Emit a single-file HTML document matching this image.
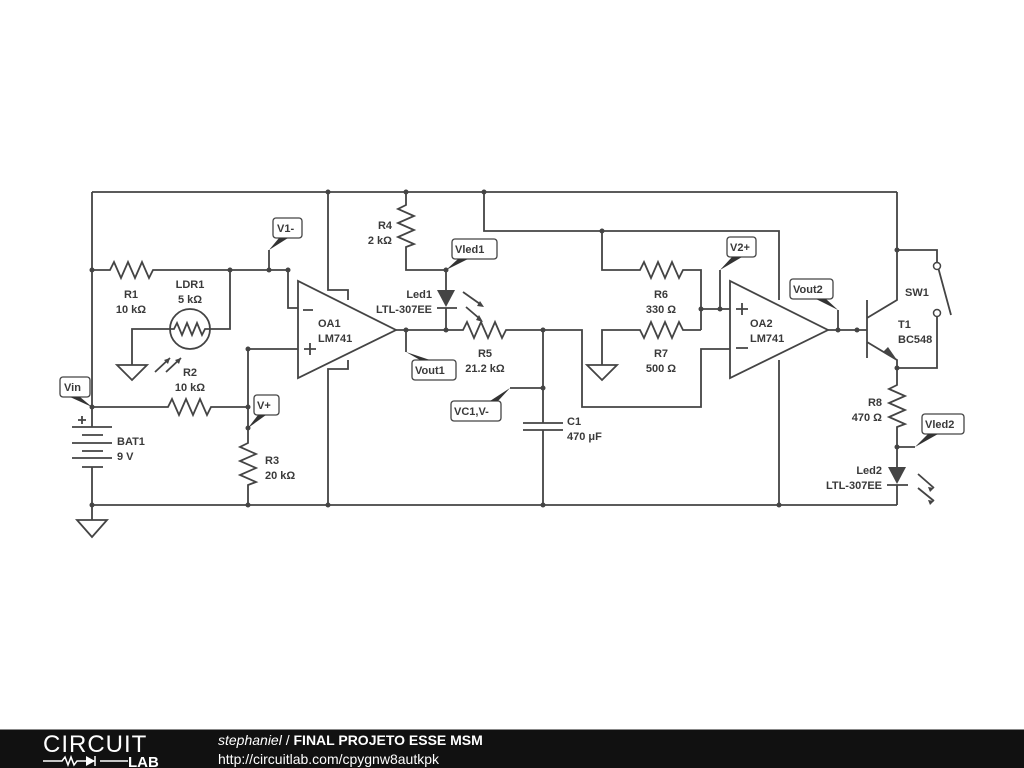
<!DOCTYPE html>
<html><head><style>
html,body{margin:0;padding:0;background:#fff;}
svg{display:block;}
text{font-family:"Liberation Sans",sans-serif;font-weight:bold;font-size:11px;fill:#3a3a3a;}
</style></head><body>
<svg width="1024" height="768" viewBox="0 0 1024 768">
<rect width="1024" height="768" fill="#fff"/>
<g stroke="#444" stroke-width="1.8" fill="none" stroke-linejoin="miter">
<path d="M92 192H897 M92 192V427 M92 467V520 M92 505H897"/>
<path d="M72 427H112 M82 435H103 M72 443H112 M82 451H103 M72 458H112 M82 467H103 M78 420H86 M82 416V424" />
<path d="M77 520H107L92 537Z"/>
<path d="M92 270H110l4-8l7 16l7-16l7 16l7-16l7 16l4-8H288V308H298"/>
<path d="M269 270V250"/>
<circle cx="190" cy="329" r="20"/>
<path d="M170 329H174l3-6l5 12l5-12l5 12l5-12l5 12l3-6H210 M210 329H230V270 M170 329H132V365 M117 365H147L132 380Z"/>
<path d="M155 372L170 358 M166 372L181 358"/>
<path d="M92 407H168l4-8l7 16l7-16l7 16l7-16l7 16l4-8H248 M248 349V443l-8 4l16 7l-16 7l16 7l-16 7l16 7l-8 3V505 M248 349H298"/>
<path d="M298 281V378L396 330Z"/>
<path d="M303 310H313 M304 349H316 M310 343V355"/>
<path d="M328 192V290H348V300 M348 360V369H328V505"/>
<path d="M406 192V205l-8 4l16 7l-16 7l16 7l-16 7l16 7l-8 3V270H446V290 M437 308H457 M446 308V330"/>
<path d="M396 330H463l4-8l7 16l7-16l7 16l7-16l7 16l4-8H582V407H701V349H730"/>
<path d="M406 330V352"/>
<path d="M463 292L480 304 M466 307L480 319"/>
<path d="M543 330V423 M523 423H563 M523 430H563 M543 430V505 M543 388H510"/>
<path d="M484 192V231H779V300 M779 360V505"/>
<path d="M602 231V270H640l4-8l7 16l7-16l7 16l7-16l7 16l4-8H701V330 M701 309H730 M720 309V270"/>
<path d="M701 330H683l-4-8l-7 16l-7-16l-7 16l-7-16l-7 16l-4-8H602V365 M587 365H617L602 380Z"/>
<path d="M730 281V378L828 330Z"/>
<path d="M736 309H748 M742 303V315 M736 348H748"/>
<path d="M828 330H867 M838 330V310 M867 300V358 M867 318L897 300V192 M867 342L897 360V368"/>
<path d="M897 250H937V262 M937 317V368H897 M938 267L951 315"/>
<path d="M897 368V385l-8 4l16 7l-16 7l16 7l-16 7l16 7l-8 3V467 M897 447H915 M887 485H908 M897 485V505"/>
<path d="M918 474L934 488 M918 488L934 501"/>
</g>
<g fill="#444">
<circle cx="937" cy="266" r="3.5" fill="#fff" stroke="#444" stroke-width="1.5"/>
<circle cx="937" cy="313" r="3.5" fill="#fff" stroke="#444" stroke-width="1.5"/>
<path d="M437 290H455L446 307Z"/>
<path d="M888 467H906L897 484Z"/>
<path d="M883 352L897 360L888 347Z"/>
<path d="M170 358l-6 2l4 4Z M181 358l-6 2l4 4Z M484 307l-7-1l3-5Z M483 322l-7-2l3-5Z M934 488l-6-1l2 5Z M934 501l-6-1l2 5Z"/>
<g>
<circle cx="92" cy="270" r="2.5"/><circle cx="230" cy="270" r="2.5"/><circle cx="269" cy="270" r="2.5"/><circle cx="288" cy="270" r="2.5"/>
<circle cx="92" cy="407" r="2.5"/><circle cx="248" cy="407" r="2.5"/><circle cx="248" cy="428" r="2.5"/><circle cx="248" cy="349" r="2.5"/><circle cx="92" cy="505" r="2.5"/><circle cx="248" cy="505" r="2.5"/>
<circle cx="328" cy="192" r="2.5"/><circle cx="406" cy="192" r="2.5"/><circle cx="484" cy="192" r="2.5"/><circle cx="328" cy="505" r="2.5"/>
<circle cx="446" cy="270" r="2.5"/><circle cx="446" cy="330" r="2.5"/><circle cx="406" cy="330" r="2.5"/>
<circle cx="543" cy="330" r="2.5"/><circle cx="543" cy="388" r="2.5"/><circle cx="543" cy="505" r="2.5"/>
<circle cx="602" cy="231" r="2.5"/><circle cx="701" cy="309" r="2.5"/><circle cx="720" cy="309" r="2.5"/><circle cx="779" cy="505" r="2.5"/>
<circle cx="838" cy="330" r="2.5"/><circle cx="857" cy="330" r="2.5"/><circle cx="897" cy="250" r="2.5"/><circle cx="897" cy="368" r="2.5"/><circle cx="897" cy="447" r="2.5"/>
</g>
</g>
<g stroke="#444" stroke-width="1.3" fill="#fff">
<rect x="273" y="218" width="29" height="20" rx="3"/>
<rect x="60" y="377" width="30" height="20" rx="3"/>
<rect x="254" y="395" width="25" height="20" rx="3"/>
<rect x="452" y="239" width="45" height="20" rx="3"/>
<rect x="412" y="360" width="44" height="20" rx="3"/>
<rect x="451" y="401" width="50" height="20" rx="3"/>
<rect x="727" y="237" width="29" height="20" rx="3"/>
<rect x="790" y="279" width="43" height="20" rx="3"/>
<rect x="922" y="414" width="42" height="20" rx="3"/>
</g>
<g fill="#333">
<path d="M269 250L279 238H288Z"/>
<path d="M92 407L80 397H70Z"/>
<path d="M248 428L258 415H266Z"/>
<path d="M446 270L458 259H468Z"/>
<path d="M406 352L420 360H430Z"/>
<path d="M510 388L498 401H490Z"/>
<path d="M720 270L732 257H742Z"/>
<path d="M838 310L826 299H816Z"/>
<path d="M915 447L928 434H938Z"/>
</g>
<g>
<text x="277" y="232">V1-</text>
<text x="64" y="391">Vin</text>
<text x="257" y="409">V+</text>
<text x="455" y="253">Vled1</text>
<text x="415" y="374">Vout1</text>
<text x="454" y="415">VC1,V-</text>
<text x="730" y="251">V2+</text>
<text x="793" y="293">Vout2</text>
<text x="925" y="428">Vled2</text>
</g>
<g text-anchor="middle">
<text x="131" y="298">R1</text><text x="131" y="313">10 kΩ</text>
<text x="190" y="288">LDR1</text><text x="190" y="303">5 kΩ</text>
<text x="190" y="376">R2</text><text x="190" y="391">10 kΩ</text>
<text x="485" y="357">R5</text><text x="485" y="372">21.2 kΩ</text>
<text x="661" y="298">R6</text><text x="661" y="313">330 Ω</text>
<text x="661" y="357">R7</text><text x="661" y="372">500 Ω</text>
</g>
<g>
<text x="117" y="445">BAT1</text><text x="117" y="460">9 V</text>
<text x="265" y="464">R3</text><text x="265" y="479">20 kΩ</text>
<text x="318" y="327">OA1</text><text x="318" y="342">LM741</text>
<text x="750" y="327">OA2</text><text x="750" y="342">LM741</text>
<text x="567" y="425">C1</text><text x="567" y="440">470 μF</text>
<text x="905" y="296">SW1</text>
<text x="898" y="328">T1</text><text x="898" y="343">BC548</text>
</g>
<g text-anchor="end">
<text x="392" y="229">R4</text><text x="392" y="244">2 kΩ</text>
<text x="432" y="298">Led1</text><text x="432" y="313">LTL-307EE</text>
<text x="882" y="406">R8</text><text x="882" y="421">470 Ω</text>
<text x="882" y="474">Led2</text><text x="882" y="489">LTL-307EE</text>
</g>
<rect x="0" y="729" width="1024" height="39" fill="#111"/>
<rect x="0" y="729" width="1024" height="1" fill="#888"/>
<text x="43" y="752" style="font-weight:normal;font-size:24px;fill:#fff;letter-spacing:1px">CIRCUIT</text>
<path d="M43 761H62l3-4l3 8l3-8l3 8l3-4H95 M95 756V766 M100 761H128" stroke="#fff" stroke-width="1.5" fill="none"/>
<path d="M86 756V766L95 761Z" fill="#fff"/>
<text x="128" y="767" style="font-size:15px;fill:#fff">LAB</text>
<text x="218" y="745" style="font-size:14px;fill:#fff"><tspan style="font-style:italic;font-weight:normal">stephaniel</tspan><tspan style="font-weight:normal"> / </tspan>FINAL PROJETO ESSE MSM</text>
<text x="218" y="764" style="font-size:14px;font-weight:normal;fill:#fff">http://circuitlab.com/cpygnw8autkpk</text>
</svg>
</body></html>
